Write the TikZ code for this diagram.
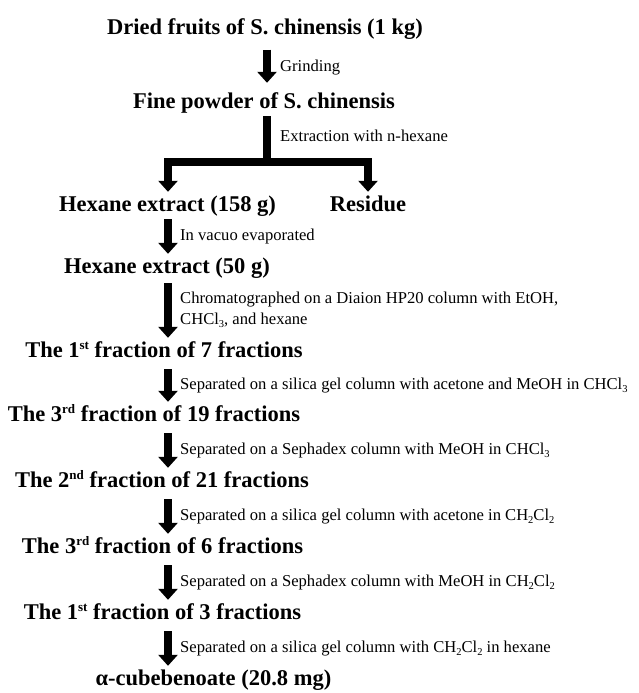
\documentclass[tikz,border=0pt]{standalone}
\usepackage{fontspec}
\setmainfont{Liberation Serif}
\usetikzlibrary{arrows.meta}
\newcommand\mysup[1]{\raisebox{0.75ex}{\fontsize{13}{13}\selectfont #1}}
\newcommand\mysub[1]{\raisebox{-0.45ex}{\fontsize{10.5}{10.5}\selectfont #1}}
\begin{document}
\begin{tikzpicture}[x=1pt,y=-1pt,
  title/.style={font=\fontsize{22.5}{26}\selectfont\bfseries, inner sep=0pt, anchor=base, text height=15pt, text depth=5pt},
  lab/.style={font=\fontsize{16.6}{21}\selectfont, inner sep=0pt, anchor=base west, align=left},
  tip/.tip={Triangle[width=19pt,length=11pt]},
  flow/.style={line width=8.5pt, -tip, shorten <=7pt, shorten >=4pt},
  fork/.style={line width=8.5pt, tip-tip, line join=miter},
  stem/.style={line width=8.5pt}]
\useasboundingbox (0,0) rectangle (638,693);
% axes for arrows
\coordinate (ax1) at (267,0);
\coordinate (ax) at (168,0);
\coordinate (axr) at (368,0);
\coordinate (br) at (267,162);
% titles
\node[title] (fruits) at (265,34.5) {Dried fruits of S. chinensis (1 kg)};
\node[title] (powder) at (264,108) {Fine powder of S. chinensis};
\node[title] (hex158) at (167.5,211) {Hexane extract (158 g)};
\node[title] (residue) at (368,211) {Residue};
\node[title] (hex50) at (167,273) {Hexane extract (50 g)};
\node[title] (f7) at (164,357) {The 1\mysup{st} fraction of 7 fractions};
\node[title] (f19) at (154,421) {The 3\mysup{rd} fraction of 19 fractions};
\node[title] (f21) at (162,487) {The 2\mysup{nd} fraction of 21 fractions};
\node[title] (f6) at (162.5,553) {The 3\mysup{rd} fraction of 6 fractions};
\node[title] (f3) at (162.5,619) {The 1\mysup{st} fraction of 3 fractions};
\node[title] (cub) at (213.5,685) {α-cubebenoate (20.8 mg)};
% labels
\node[lab] (l1) at (280,71) {Grinding};
\node[lab] (l2) at (280,141) {Extraction with n-hexane};
\node[lab] (l3) at (180,240) {In vacuo evaporated};
\node[lab] (l4a) at (180,303) {Chromatographed on a Diaion HP20 column with EtOH,};
\node[lab] (l4b) at (180,324) {CHCl\mysub{3}, and hexane};
\node[lab] (l5) at (180,389) {Separated on a silica gel column with acetone and MeOH in CHCl\mysub{3}};
\node[lab] (l6) at (180,454) {Separated on a Sephadex column with MeOH in CHCl\mysub{3}};
\node[lab] (l7) at (180,520) {Separated on a silica gel column with acetone in CH\mysub{2}Cl\mysub{2}};
\node[lab] (l8) at (180,586) {Separated on a Sephadex column with MeOH in CH\mysub{2}Cl\mysub{2}};
\node[lab] (l9) at (180,652) {Separated on a silica gel column with CH\mysub{2}Cl\mysub{2} in hexane};
% arrows
\draw[flow, shorten <=10pt, shorten >=10pt] (fruits.south -| ax1) -- (powder.north -| ax1);
\draw[stem, shorten <=3pt] (powder.south -| ax1) -- (br);
\draw[fork, shorten <=4pt, shorten >=4pt] (hex158.north -| ax) |- (br) -| (residue.north -| axr);
\draw[flow, shorten <=3pt, shorten >=4pt] (hex158.south -| ax) -- (hex50.north -| ax);
\draw[flow, shorten <=5pt, shorten >=4pt] (hex50.south -| ax) -- (f7.north -| ax);
\draw[flow] (f7.south -| ax) -- (f19.north -| ax);
\draw[flow] (f19.south -| ax) -- (f21.north -| ax);
\draw[flow] (f21.south -| ax) -- (f6.north -| ax);
\draw[flow] (f6.south -| ax) -- (f3.north -| ax);
\draw[flow] (f3.south -| ax) -- (cub.north -| ax);
\end{tikzpicture}
\end{document}
